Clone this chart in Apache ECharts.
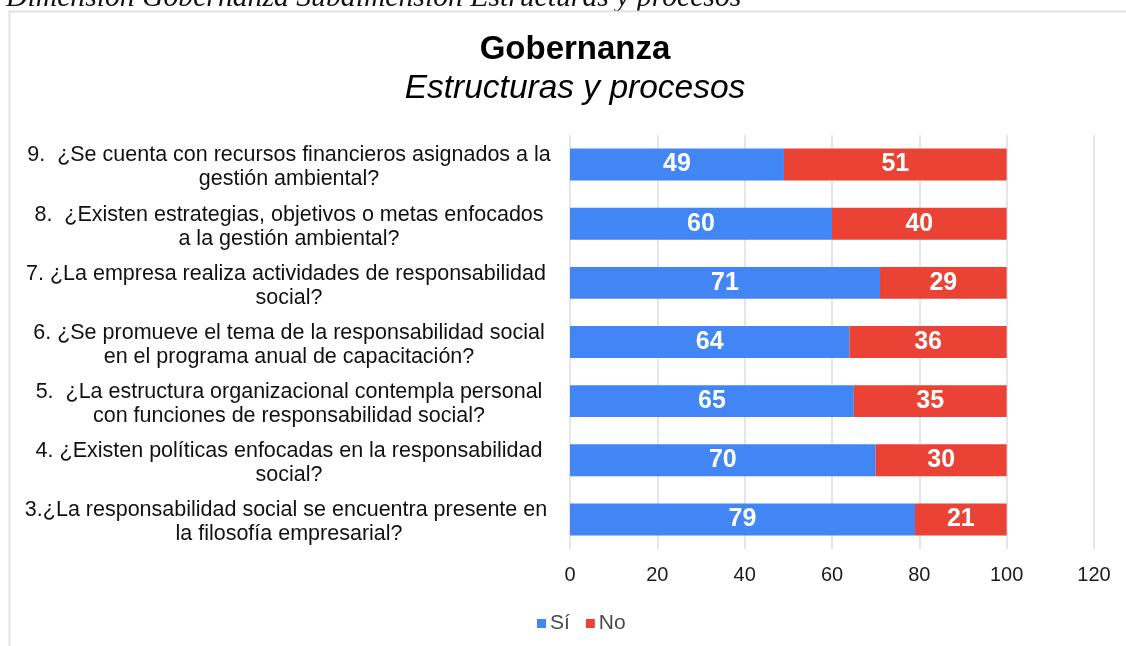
<!DOCTYPE html>
<html>
<head>
<meta charset="utf-8">
<script src="https://cdn.jsdelivr.net/npm/echarts@6/dist/echarts.min.js"></script>
<style>
html,body{margin:0;padding:0;background:#fff;}
#c{width:1126px;height:646px;}
</style>
</head>
<body>
<div id="c"></div>
<script>
const categories = [
  ['9.  ¿Se cuenta con recursos financieros asignados a la', 'gestión ambiental?'],
  ['8.  ¿Existen estrategias, objetivos o metas enfocados', 'a la gestión ambiental?'],
  ['7. ¿La empresa realiza actividades de responsabilidad ', 'social?'],
  ['6. ¿Se promueve el tema de la responsabilidad social', 'en el programa anual de capacitación?'],
  ['5.  ¿La estructura organizacional contempla personal', 'con funciones de responsabilidad social?'],
  ['4. ¿Existen políticas enfocadas en la responsabilidad', 'social?'],
  ['3.¿La responsabilidad social se encuentra presente en ', 'la filosofía empresarial?']
];
const siValues = [49, 60, 71, 64, 65, 70, 79];
const noValues = [51, 40, 29, 36, 35, 30, 21];
const seriesNames = ['Sí', 'No'];
const xTicks = [0, 20, 40, 60, 80, 100, 120];
const caption = 'Dimensión Gobernanza Subdimensión Estructuras y procesos';
const titleText = 'Gobernanza';
const subtitleText = 'Estructuras y procesos';

const chart = echarts.init(document.getElementById('c'), null, {renderer: 'canvas'});
const catKeys = categories.map(c => c.join('\n'));

const option = {
  animation: false,
  textStyle: {fontFamily: 'Liberation Sans, Arial, sans-serif'},
  graphic: [
    {type: 'line', shape: {x1: 9.5, y1: 11, x2: 9.5, y2: 646}, style: {stroke: '#e2e2e2', lineWidth: 2}},
    {type: 'line', shape: {x1: 9, y1: 11.5, x2: 1126, y2: 11.5}, style: {stroke: '#e2e2e2', lineWidth: 2}},
    {type: 'text', left: 6, top: -17, z: -1, style: {text: caption, font: 'italic 29.7px "Liberation Serif", "Times New Roman", serif', fill: '#111'}},
    {type: 'text', x: 575, y: 50, style: {text: titleText, font: 'bold 33px "Liberation Sans", Arial, sans-serif', fill: '#000', align: 'center', verticalAlign: 'middle'}},
    {type: 'text', x: 575, y: 89, style: {text: subtitleText, font: 'italic 33.5px "Liberation Sans", Arial, sans-serif', fill: '#000', align: 'center', verticalAlign: 'middle'}}
  ],
  legend: {
    data: seriesNames,
    left: 532,
    top: 608,
    itemWidth: 9,
    itemHeight: 9,
    itemGap: 16,
    icon: 'rect',
    textStyle: {fontSize: 21, color: '#4a4a4a', padding: [0, 0, 0, -1]}
  },
  grid: {left: 570, right: 32, top: 135, bottom: 97, containLabel: false},
  xAxis: {
    type: 'value',
    min: xTicks[0],
    max: xTicks[xTicks.length - 1],
    interval: 20,
    axisLine: {show: false},
    axisTick: {show: false},
    splitLine: {lineStyle: {color: '#dcdcdc', width: 1.5}},
    axisLabel: {fontSize: 20, color: '#1a1a1a', margin: 16}
  },
  yAxis: {
    type: 'category',
    data: catKeys,
    inverse: true,
    axisLine: {show: false},
    axisTick: {show: false},
    axisLabel: {
      margin: 11,
      align: 'right',
      fontSize: 21.5,
      color: '#111',
      lineHeight: 24,
      padding: [6, 0, 0, 0],
      formatter: v => v.split('\n').map(s => '{a|' + s + '}').join('\n'),
      rich: {a: {width: 540, align: 'center', fontSize: 21.5, lineHeight: 24, color: '#111'}}
    }
  },
  series: [
    {
      name: seriesNames[0], type: 'bar', stack: 't', data: siValues, barWidth: '54%',
      itemStyle: {color: '#4285f4'},
      label: {show: true, position: 'inside', color: '#fff', fontWeight: 'bold', fontSize: 25}
    },
    {
      name: seriesNames[1], type: 'bar', stack: 't', data: noValues, barWidth: '54%',
      itemStyle: {color: '#ea4335'},
      label: {show: true, position: 'inside', color: '#fff', fontWeight: 'bold', fontSize: 25}
    }
  ]
};
chart.setOption(option);
</script>
</body>
</html>
